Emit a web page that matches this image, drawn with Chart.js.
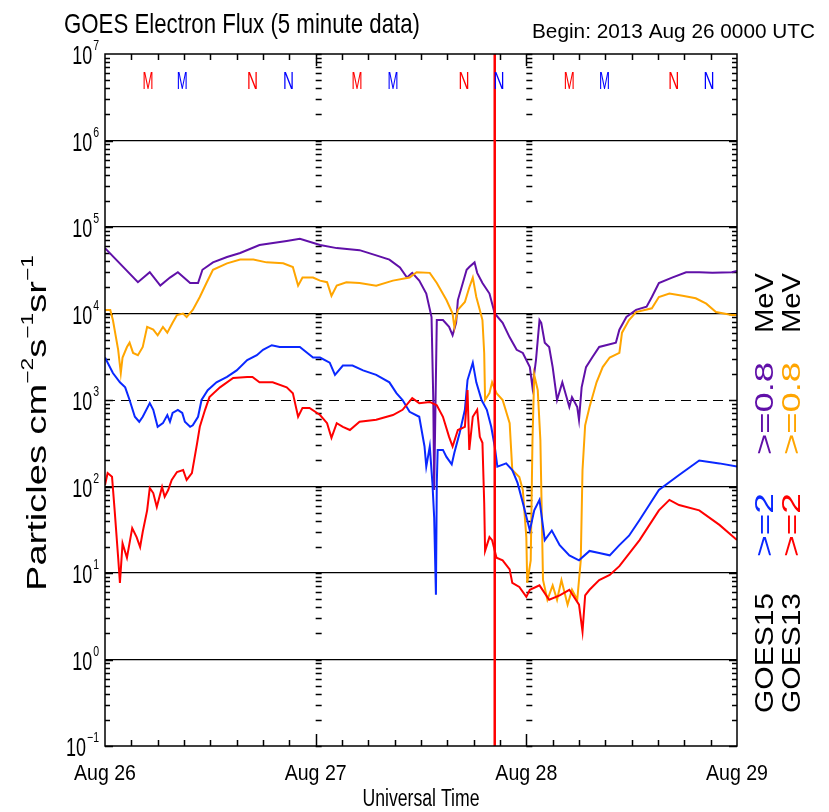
<!DOCTYPE html>
<html>
<head>
<meta charset="utf-8">
<script src="https://cdn.jsdelivr.net/npm/chart.js@4.4.1/dist/chart.umd.min.js"></script>
<style>
  html, body { margin: 0; padding: 0; background: #fff; }
  #wrap { width: 829px; height: 812px; position: relative; }
</style>
</head>
<body>
<div id="wrap"><canvas id="chart"></canvas></div>
<script>
// hours since 2013 Aug 26 00:00 UTC, flux in particles cm-2 s-1 sr-1
const g15_08Hours = [0,3.75,5.1,6.3,7.4,8.3,9.7,10.6,11.1,12.3,13.9,15.4,17.6,20.7,22.2,24.5,26.4,29.0,30.9,32.4,33.6,34.4,35.0,35.8,36.6,37.2,37.4,37.5,37.8,38.5,39.2,39.6,40.0,40.2,41.2,41.5,42.1,42.4,43.0,43.8,44.4,45.3,46.1,46.9,47.6,48.4,48.7,49.1,49.5,49.7,50.1,50.6,51.0,51.5,52.1,52.9,53.2,53.8,54.0,54.3,54.8,55.5,56.3,58.2,58.6,59.4,60.5,61.7,62.3,63.1,64.6,66.2,67.7,69.2,71.4,72];
const g15_08Flux = [5.7e4,2.3e4,3.0e4,2.1e4,2.6e4,3.0e4,2.25e4,2.25e4,3.2e4,3.9e4,4.5e4,5.0e4,6.2e4,6.9e4,7.3e4,6.2e4,5.7e4,5.4e4,4.7e4,4.2e4,3.4e4,2.6e4,2.95e4,2.4e4,1.7e4,9.1e3,1.0e3,91,8.4e3,8.4e3,7.0e3,5.6e3,7.8e3,1.43e4,3.2e4,3.45e4,3.9e4,2.95e4,2.25e4,1.7e4,1.0e4,7.8e3,5.3e3,3.8e3,3.5e3,2.4e3,1.4e3,2.9e3,8.4e3,7.8e3,4.6e3,4.1e3,2.4e3,1.0e3,1.6e3,830,1.08e3,830,590,1.4e3,2.4e3,3.1e3,4.1e3,4.6e3,6.5e3,9.1e3,1.1e4,1.2e4,1.55e4,2.25e4,2.6e4,3.0e4,3.0e4,2.95e4,3.0e4,3.1e4];

const g13_08Hours = [0,0.6,0.9,1.5,1.8,2.0,2.5,2.8,3.2,3.75,4.3,4.8,5.5,6.0,6.6,7.1,7.7,8.2,8.9,9.3,10.0,10.8,11.6,12.3,13.9,15.4,16.9,18.4,20.3,21.4,22.0,22.5,23.7,24.5,25.3,25.8,26.4,27.5,29.0,30.9,32.8,34.7,35.5,37.0,37.8,38.9,39.6,39.8,40.2,41.0,41.5,41.9,42.3,42.7,43.0,43.2,43.3,43.8,44.1,44.6,45.3,46.1,46.4,47.2,47.6,48.0,48.1,48.5,48.7,48.9,49.3,49.6,49.9,50.4,51.0,51.5,52.0,52.7,53.2,53.8,54.2,54.4,54.7,55.2,56.0,56.7,57.5,58.6,58.9,59.7,60.5,62.3,63.1,64.3,65.8,67.3,68.5,69.6,71.4,72];
const g13_08Flux = [1.1e4,1.1e4,8.4e3,3.8e3,2.05e3,3.1e3,4.1e3,4.6e3,3.5e3,3.3e3,4.1e3,7.0e3,6.5e3,5.6e3,7.0e3,6.0e3,7.8e3,9.6e3,1.0e4,9.1e3,1.1e4,1.55e4,2.3e4,3.2e4,3.8e4,4.2e4,4.2e4,3.9e4,3.8e4,3.45e4,2.1e4,2.6e4,2.6e4,2.4e4,2.3e4,1.6e4,2.1e4,2.3e4,2.25e4,2.1e4,2.4e4,2.6e4,3.0e4,2.95e4,2.25e4,1.43e4,1.0e4,7.0e3,1.1e4,1.36e4,2.0e4,2.6e4,1.55e4,1.1e4,8.4e3,3.5e3,1.0e3,1.2e3,1.6e3,1.2e3,1.0e3,540,155,129,91,26,7.7,14,345,1.95e3,1.3e3,345,8.3,4.9,7.2,4.9,8.3,4.3,6.4,4.9,14,155,510,830,1.6e3,2.4e3,3.1e3,3.5e3,6.0e3,8.4e3,1.04e4,1.15e4,1.55e4,1.7e4,1.6e4,1.5e4,1.3e4,1.04e4,9.6e3,9.6e3];

const g15_2Hours = [0,0.9,1.7,2.3,2.8,3.4,3.9,4.3,5.1,5.5,6.0,6.6,7.1,7.4,7.7,8.3,8.8,9.1,9.7,10.0,10.6,11.0,11.7,12.7,13.9,15.0,16.2,17.3,18.0,19.0,19.9,22.2,23.7,24.5,25.6,26.2,27.1,28.2,29.4,30.9,32.4,33.2,33.9,34.7,35.8,36.4,36.6,37.0,37.3,37.5,37.7,37.8,37.9,38.5,38.9,39.5,39.8,40.4,41.0,41.3,41.9,42.3,42.9,43.5,44.0,44.4,44.7,45.7,46.4,47.0,47.6,48.4,48.9,49.5,50.1,50.9,51.8,52.9,54.0,55.2,56.3,57.5,58.6,59.7,60.9,62.0,63.1,65.4,67.7,70.0,72];
const g15_2Flux = [3.1e3,2.05e3,1.6e3,1.4e3,1.0e3,640,560,640,920,770,490,540,670,560,710,770,710,560,490,510,640,1.0e3,1.3e3,1.6e3,1.85e3,2.2e3,2.9e3,3.3e3,3.8e3,4.3e3,4.1e3,4.1e3,3.1e3,3.1e3,2.7e3,1.95e3,2.5e3,2.5e3,2.2e3,1.95e3,1.6e3,1.2e3,1.0e3,730,640,290,170,290,110,44,5.6,110,265,265,220,180,245,415,770,1.7e3,2.7e3,1.6e3,1.0e3,770,490,290,170,185,155,110,65,31,53,70,24,31,21,16,14,18,17,16,21,27,41,61,91,136,200,185,170];

const g13_2Hours = [0,0.3,0.8,1.1,1.5,1.7,2.0,2.5,3.1,3.6,4.0,4.3,4.8,5.1,5.5,5.9,6.5,6.8,7.2,7.6,8.2,8.9,9.3,9.9,10.5,10.8,11.4,11.9,13.1,14.6,16.2,16.8,17.6,19.1,20.7,21.4,22.0,22.5,23.3,24.5,25.3,25.8,26.4,27.1,27.9,29.0,30.9,32.8,33.9,35.0,35.8,37.0,37.8,38.5,39.2,39.6,40.2,41.0,41.3,41.5,41.9,42.4,42.7,43.0,43.2,43.3,43.8,44.1,44.6,45.3,46.1,46.4,47.2,48.0,48.4,49.5,50.6,51.8,52.9,54.0,54.4,54.7,55.2,56.3,57.5,58.6,60.9,63.1,64.3,65.4,67.7,70.0,72];
const g13_2Flux = [104,143,130,53,15,7.7,22,15,33,26,20,30,53,96,84,58,99,76,91,119,147,155,119,143,320,490,770,1.08e3,1.4e3,1.8e3,1.85e3,1.85e3,1.6e3,1.6e3,1.4e3,1.2e3,640,810,810,670,540,365,540,490,450,560,590,670,770,1.05e3,920,950,870,640,375,290,450,490,1.3e3,265,640,770,375,320,65,18,26,24,15,14,11,7.7,6.9,5.3,6.4,7.2,4.9,5.5,6.4,4.3,2.1,5.5,6.4,8.3,9.5,12,24,53,70,61,53,36,24];

// red event marker (hours)
const markerHour = 44.4;

// axis labels
const decades = [0.1, 1, 10, 100, 1e3, 1e4, 1e5, 1e6, 1e7];
const decadeExp = ['-1', '0', '1', '2', '3', '4', '5', '6', '7'];
const dayHours = [0, 24, 48, 72];
const dayLabels = ['Aug 26', 'Aug 27', 'Aug 28', 'Aug 29'];

// local midnight / noon markers along the top
const mnHours = [4.9, 8.8, 16.8, 20.9, 28.7, 32.8, 40.9, 44.9, 52.9, 56.9, 64.8, 68.8];
const mnLabels = ['M','M','N','N','M','M','N','N','M','M','N','N'];
const mnColors = ['#ff0000','#0000ff','#ff0000','#0000ff','#ff0000','#0000ff','#ff0000','#0000ff','#ff0000','#0000ff','#ff0000','#0000ff'];

const FONT = '"Liberation Sans", Arial, sans-serif';
const PURPLE = '#6010a8';
const ORANGE = '#ffa500';
const BLUE = '#0a28ff';
const RED = '#ff0000';

function pts(hours, flux) {
    return hours.map((h, i) => ({ x: h, y: flux[i] }));
}

// draw text squeezed horizontally to a given width
function fitText(ctx, text, x, y, size, width, opts = {}) {
    ctx.save();
    ctx.font = size + 'px ' + FONT;
    ctx.fillStyle = opts.color || '#000';
    ctx.textBaseline = 'alphabetic';
    ctx.textAlign = 'left';
    const w = ctx.measureText(text).width;
    const sx = width / w;
    ctx.translate(x, y);
    if (opts.rotate) ctx.rotate(-Math.PI / 2);
    ctx.scale(sx, 1);
    let x0 = 0;
    if (opts.align === 'center') x0 = -w / 2;
    if (opts.align === 'right') x0 = -w;
    ctx.fillText(text, x0, 0);
    ctx.restore();
}

// rich text (main + superscript pieces), rotated, squeezed to total length
function richRotated(ctx, parts, x, y, size, length) {
    ctx.save();
    ctx.fillStyle = '#000';
    let total = 0;
    parts.forEach(p => {
        ctx.font = (p.sup ? size * 0.6 : size) + 'px ' + FONT;
        p.w = ctx.measureText(p.t).width;
        total += p.w;
    });
    const sx = length / total;
    ctx.translate(x, y);
    ctx.rotate(-Math.PI / 2);
    ctx.scale(sx, 1);
    let cx = 0;
    parts.forEach(p => {
        ctx.font = (p.sup ? size * 0.6 : size) + 'px ' + FONT;
        ctx.fillText(p.t, cx, p.sup ? -size * 0.5 : 0);
        cx += p.w;
    });
    ctx.restore();
}

const decorPlugin = {
    id: 'decor',
    beforeDatasetsDraw(chart) {
        const { ctx, chartArea: a, scales: { x, y } } = chart;
        // dashed line at 10^3
        ctx.save();
        ctx.strokeStyle = '#000';
        ctx.lineWidth = 1.2;
        ctx.setLineDash([10, 6]);
        const yy = Math.round(y.getPixelForValue(1e3)) + 0.5;
        ctx.beginPath();
        ctx.moveTo(a.left, yy);
        ctx.lineTo(a.right, yy);
        ctx.stroke();
        ctx.restore();

        // minor log ticks on left, right and at day boundaries
        ctx.save();
        ctx.strokeStyle = '#000';
        ctx.lineWidth = 1.5;
        ctx.beginPath();
        for (let k = -1; k <= 6; k++) {
            for (let m = 1; m <= 9; m++) {
                const v = m * Math.pow(10, k);
                const py = Math.round(y.getPixelForValue(v)) + 0.5;
                const len = m === 1 ? 8 : 5;
                ctx.moveTo(a.left, py); ctx.lineTo(a.left + len, py);
                ctx.moveTo(a.right, py); ctx.lineTo(a.right - len, py);
                [24, 48].forEach(h => {
                    const px = x.getPixelForValue(h);
                    ctx.moveTo(px, py); ctx.lineTo(px + 6, py);
                });
            }
        }
        const p7 = y.getPixelForValue(1e7) + 0.5;
        [24, 48].forEach(h => {
            const px = x.getPixelForValue(h);
            ctx.moveTo(px, p7); ctx.lineTo(px + 6, p7);
        });
        // time ticks every 3 hours, top and bottom
        for (let h = 3; h < 72; h += 3) {
            const px = Math.round(x.getPixelForValue(h)) + 0.5;
            const len = h % 24 === 0 ? 12 : 6;
            ctx.moveTo(px, a.top); ctx.lineTo(px, a.top + len);
            ctx.moveTo(px, a.bottom); ctx.lineTo(px, a.bottom - len);
        }
        ctx.stroke();
        ctx.restore();
    },
    afterDraw(chart) {
        const { ctx, chartArea: a, scales: { x, y } } = chart;
        // frame
        ctx.save();
        ctx.strokeStyle = '#000';
        ctx.lineWidth = 1.5;
        ctx.strokeRect(a.left, a.top, a.right - a.left, a.bottom - a.top);
        ctx.restore();

        // y tick labels 10^n
        decades.forEach((v, i) => {
            const py = y.getPixelForValue(v);
            ctx.font = '14px ' + FONT;
            const sup = decadeExp[i].replace('-', '\u2212');
            const supW = ctx.measureText(sup).width * 0.75;
            const right = 99;
            fitText(ctx, sup, right - supW, py - 4, 14, supW);
            fitText(ctx, '10', right - supW - 21, py + 10, 25, 20);
        });

        // x tick labels
        dayHours.forEach((h, i) => {
            fitText(ctx, dayLabels[i], x.getPixelForValue(h), 780, 22, 62, { align: 'center' });
        });
        fitText(ctx, 'Universal Time', 421, 806, 23, 117, { align: 'center' });

        // titles
        fitText(ctx, 'GOES Electron Flux (5 minute data)', 64, 33, 28, 356);
        fitText(ctx, 'Begin: 2013 Aug 26 0000 UTC', 532, 38, 21, 283);

        // y axis title
        richRotated(ctx, [
            { t: 'Particles cm' }, { t: '\u22122', sup: true },
            { t: 's' }, { t: '\u22121', sup: true },
            { t: 'sr' }, { t: '\u22121', sup: true }
        ], 46, 591, 27, 336);

        // M / N markers
        mnHours.forEach((h, i) => {
            fitText(ctx, mnLabels[i], x.getPixelForValue(h), 89, 23, 11, { align: 'center', color: mnColors[i] });
        });

        // right side legend, rotated
        const cols = [
            { bx: 773, lo: BLUE, hi: PURPLE, sat: 'GOES15' },
            { bx: 800, lo: RED, hi: ORANGE, sat: 'GOES13' }
        ];
        cols.forEach(c => {
            fitText(ctx, c.sat, c.bx, 713, 26, 120, { rotate: true });
            fitText(ctx, '>=2', c.bx, 557, 26, 64, { rotate: true, color: c.lo });
            fitText(ctx, '>=0.8', c.bx, 455, 26, 93, { rotate: true, color: c.hi });
            fitText(ctx, 'MeV', c.bx, 333, 26, 60, { rotate: true });
        });
    }
};

const lineStyle = { pointRadius: 0, borderWidth: 2, tension: 0, fill: false };

new Chart(document.getElementById('chart'), {
    type: 'line',
    data: {
        datasets: [
            { label: 'marker', data: [{ x: markerHour, y: 0.1 }, { x: markerHour, y: 1e7 }], borderColor: RED, ...lineStyle, borderWidth: 2.5 },
            { label: 'GOES13 >=2 MeV', data: pts(g13_2Hours, g13_2Flux), borderColor: RED, ...lineStyle },
            { label: 'GOES15 >=2 MeV', data: pts(g15_2Hours, g15_2Flux), borderColor: BLUE, ...lineStyle },
            { label: 'GOES13 >=0.8 MeV', data: pts(g13_08Hours, g13_08Flux), borderColor: ORANGE, ...lineStyle },
            { label: 'GOES15 >=0.8 MeV', data: pts(g15_08Hours, g15_08Flux), borderColor: PURPLE, ...lineStyle }
        ]
    },
    options: {
        responsive: true,
        maintainAspectRatio: false,
        animation: false,
        layout: { padding: { left: 0, right: 92, top: 54, bottom: 0 } },
        plugins: { legend: { display: false }, tooltip: { enabled: false }, title: { display: false } },
        scales: {
            x: {
                type: 'linear',
                min: 0,
                max: 72,
                ticks: { display: false, stepSize: 24 },
                grid: { display: false },
                border: { display: false },
                afterFit(s) { s.height = 66; }
            },
            y: {
                type: 'logarithmic',
                min: 0.1,
                max: 1e7,
                afterBuildTicks(s) { s.ticks = decades.map(v => ({ value: v })); },
                ticks: { display: false },
                grid: {
                    color: c => (c.tick && (c.tick.value === 1e3 || c.tick.value === 1e7 || c.tick.value === 0.1)) ? 'rgba(0,0,0,0)' : '#000',
                    lineWidth: 1.2,
                    drawTicks: false
                },
                border: { display: false },
                afterFit(s) { s.width = 105; }
            }
        }
    },
    plugins: [decorPlugin]
});
</script>
</body>
</html>
